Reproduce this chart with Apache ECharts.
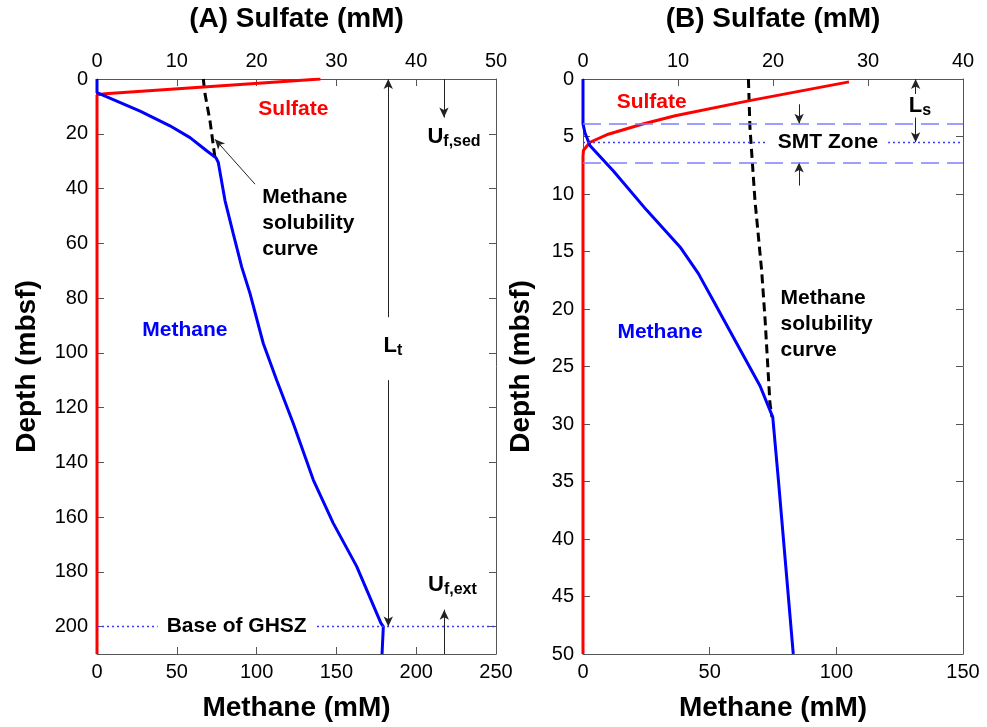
<!DOCTYPE html>
<html>
<head>
<meta charset="utf-8">
<script src="https://cdn.jsdelivr.net/npm/echarts@6/dist/echarts.min.js"></script>
<style>
  html, body { margin: 0; padding: 0; background: #fff; }
  #chart { width: 987px; height: 727px; }
</style>
</head>
<body>
<div id="chart"></div>
<script>
// ---- Panel A: whole sediment column down to the base of the GHSZ ----
// pairs are [concentration (mM), depth (mbsf)]
const sulfateA    = [[28, 0], [1, 5.4], [0, 5.8], [0, 210]];
const methaneA    = [[0, 0], [0, 5], [0.8, 5.2], [27, 11.7], [45.7, 17.1], [58.3, 21.4], [68.7, 26.2],
                     [74.6, 28.8], [76, 30.5], [80.2, 44.4], [85.4, 56.6], [90.7, 68.7], [95.9, 78.4],
                     [104.2, 96.6], [112.6, 110], [123, 125.8], [135.5, 146.4], [148, 162.2],
                     [162.7, 178], [177.9, 198.7], [179.4, 200], [178.6, 210]];
const solubilityA = [[66.6, 0], [67.7, 5.5], [70.8, 15.3], [73.9, 28.7]];
const ghszBaseA   = 200;

// ---- Panel B: upper 50 m, sulfate-methane transition ----
const sulfateB    = [[28, 0.25], [17.4, 1.9], [9.7, 3.2], [6.2, 3.93], [2.66, 4.8], [0.74, 5.5],
                     [0.05, 6.2], [0, 6.7], [0, 50]];
const methaneB    = [[0, 0], [0, 3.9], [0.8, 4.7], [2.8, 5.8], [12, 8], [25.1, 11.4], [38.3, 14.6],
                     [45.5, 16.9], [52, 19.5], [60.7, 23], [69.9, 26.7], [74.9, 29.4], [77.1, 34.8],
                     [79.7, 41.5], [83, 50]];
const solubilityB = [[65.3, 0], [65.9, 4.2], [67.9, 10.6], [70.5, 16.6], [71.9, 21], [73.8, 28.2], [74.6, 29.4]];
const smtTopB = 3.9, smtMidB = 5.5, smtBaseB = 7.25;

// axis ranges [min, max, interval]
const depthAxisA   = [0, 210, 20];
const sulfateAxisA = [0, 50, 10];
const methaneAxisA = [0, 250, 50];
const depthAxisB   = [0, 50, 5];
const sulfateAxisB = [0, 40, 10];
const methaneAxisB = [0, 150, 50];

const FONT = 'Liberation Sans, Arial, Helvetica, sans-serif';
const AXIS_COLOR = '#555';
const RED = '#ff0000', BLUE = '#0000ff';
const NAME_STYLE = { fontSize: 28, fontWeight: 'bold', color: '#000', fontFamily: FONT };

function xAxis(grid, position, range, name, nameGap) {
  return {
    type: 'value', gridIndex: grid, position: position,
    min: range[0], max: range[1], interval: range[2],
    name: name, nameLocation: 'middle', nameGap: nameGap,
    nameTextStyle: NAME_STYLE,
    axisLine: { show: true, onZero: false, lineStyle: { color: AXIS_COLOR, width: 1 } },
    axisTick: { show: true, inside: true, length: 7, lineStyle: { color: AXIS_COLOR } },
    axisLabel: { fontSize: 20, color: '#000', margin: 8, fontFamily: FONT },
    splitLine: { show: false }
  };
}

function yAxis(grid, position, range, name, nameGap, showLabels) {
  return {
    type: 'value', gridIndex: grid, position: position, inverse: true,
    min: range[0], max: range[1], interval: range[2],
    name: name, nameLocation: 'middle', nameGap: nameGap, nameRotate: 90,
    nameTextStyle: NAME_STYLE,
    axisLine: { show: true, onZero: false, lineStyle: { color: AXIS_COLOR, width: 1 } },
    axisTick: { show: true, inside: true, length: 7, lineStyle: { color: AXIS_COLOR } },
    axisLabel: {
      show: showLabels, fontSize: 20, color: '#000', margin: 9, fontFamily: FONT,
      formatter: v => (v % range[2] === 0 ? String(v) : '')
    },
    splitLine: { show: false }
  };
}

function curve(xi, yi, data, color, dashed) {
  return {
    type: 'line', xAxisIndex: xi, yAxisIndex: yi, data: data,
    showSymbol: false, symbol: 'none', silent: true, animation: false,
    lineStyle: { color: color, width: 3, type: dashed ? [9, 5] : 'solid' }
  };
}

// text placed in data coordinates
function note(x, y, formatter, style) {
  return { value: [x, y], label: Object.assign({ show: true, formatter: formatter }, style) };
}

const rich = {
  b:   { fontSize: 22, fontWeight: 'bold', color: '#000', fontFamily: FONT, padding: [0, 0, 9, 0] },
  sub: { fontSize: 16, fontWeight: 'bold', color: '#000', fontFamily: FONT }
};
const boldText = (color, extra) => Object.assign({
  position: 'inside', fontSize: 21, fontWeight: 'bold', color: color, fontFamily: FONT
}, extra || {});
const leftText = (color) => ({
  position: 'right', distance: 0, align: 'left', fontSize: 21, fontWeight: 'bold',
  color: color, fontFamily: FONT, lineHeight: 26
});

function arrow(x1, y1, x2, y2) {
  return [{ coord: [x1, y1], symbol: 'none' }, { coord: [x2, y2], symbol: 'arrow', symbolSize: [7, 10] }];
}

function notes(xi, yi, data, arrows, hlines) {
  return [{
    type: 'scatter', xAxisIndex: xi, yAxisIndex: yi, silent: true, animation: false,
    symbolSize: 1, itemStyle: { color: 'rgba(0,0,0,0)', opacity: 1 }, z: 5,
    data: data,
    markLine: {
      silent: true, animation: false, label: { show: false }, symbol: ['none', 'arrow'],
      lineStyle: { color: '#222', width: 1, type: 'solid', opacity: 1 },
      emphasis: { disabled: true },
      data: arrows
    }
  }, {
    type: 'line', xAxisIndex: xi, yAxisIndex: yi, data: [], silent: true, animation: false, z: 1,
    markLine: {
      silent: true, animation: false, label: { show: false }, symbol: ['none', 'none'],
      emphasis: { disabled: true },
      data: hlines
    }
  }];
}

const dotted = { color: '#3b3bff', width: 1.3, type: [2, 3], opacity: 1 };
const dashedBlue = { color: '#7f7fff', width: 1.5, type: [18, 8], opacity: 1 };

const option = {
  backgroundColor: '#fff',
  animation: false,
  textStyle: { fontFamily: FONT },
  grid: [
    { left: 97, top: 78, width: 399, height: 577 },
    { left: 583, top: 78, width: 380, height: 577 }
  ],
  xAxis: [
    xAxis(0, 'top', sulfateAxisA, '(A) Sulfate (mM)', 46),
    xAxis(0, 'bottom', methaneAxisA, 'Methane (mM)', 40),
    xAxis(1, 'top', sulfateAxisB, '(B) Sulfate (mM)', 46),
    xAxis(1, 'bottom', methaneAxisB, 'Methane (mM)', 40)
  ],
  yAxis: [
    yAxis(0, 'left', depthAxisA, 'Depth (mbsf)', 56, true),
    yAxis(0, 'right', depthAxisA, '', 0, false),
    yAxis(1, 'left', depthAxisB, 'Depth (mbsf)', 48, true),
    yAxis(1, 'right', depthAxisB, '', 0, false)
  ],
  series: [
    // panel A
    curve(1, 0, solubilityA, '#000', true),
    curve(0, 0, sulfateA, RED, false),
    curve(1, 0, methaneA, BLUE, false),
    ...notes(1, 0, [
      note(123, 11, 'Sulfate', boldText(RED)),
      note(55.1, 91.8, 'Methane', boldText(BLUE)),
      note(103.2, 52.8, 'Methane\nsolubility\ncurve', leftText('#000')),
      note(87.5, ghszBaseA, 'Base of GHSZ', boldText('#000', { backgroundColor: '#fff', padding: [3, 9] })),
      note(185.4, 99.1, '{b|L}{sub|t}', { position: 'inside', rich: rich }),
      note(223.7, 22.8, '{b|U}{sub|f,sed}', { position: 'inside', rich: rich }),
      note(222.7, 186.5, '{b|U}{sub|f,ext}', { position: 'inside', rich: rich })
    ], [
      arrow(182.5, 87, 182.5, 0),
      arrow(182.5, 110, 182.5, ghszBaseA),
      arrow(217.4, 0, 217.4, 14.1),
      arrow(217.6, 210, 217.6, 193.8),
      arrow(99, 38.4, 73.9, 22)
    ], [
      { yAxis: ghszBaseA, lineStyle: dotted }
    ]),
    // panel B
    curve(3, 2, solubilityB, '#000', true),
    curve(2, 2, sulfateB, RED, false),
    curve(3, 2, methaneB, BLUE, false),
    ...notes(3, 2, [
      note(27.1, 1.98, 'Sulfate', boldText(RED)),
      note(30.4, 22, 'Methane', boldText(BLUE)),
      note(77.8, 21.3, 'Methane\nsolubility\ncurve', leftText('#000')),
      note(96.7, smtMidB, 'SMT Zone', boldText('#000', { backgroundColor: '#fff', padding: [3, 10] })),
      note(133, 2.73, '{b|L}{sub|s}', { position: 'inside', rich: rich })
    ], [
      arrow(85.3, 2.2, 85.3, smtTopB),
      arrow(85.3, 9.27, 85.3, smtBaseB),
      arrow(131.3, 1.3, 131.3, 0),
      arrow(131.3, 3.35, 131.3, smtMidB)
    ], [
      { yAxis: smtTopB, lineStyle: dashedBlue },
      { yAxis: smtMidB, lineStyle: dotted },
      { yAxis: smtBaseB, lineStyle: dashedBlue }
    ])
  ]
};

const chart = echarts.init(document.getElementById('chart'), null, { renderer: 'canvas' });
chart.setOption(option);
</script>
</body>
</html>
